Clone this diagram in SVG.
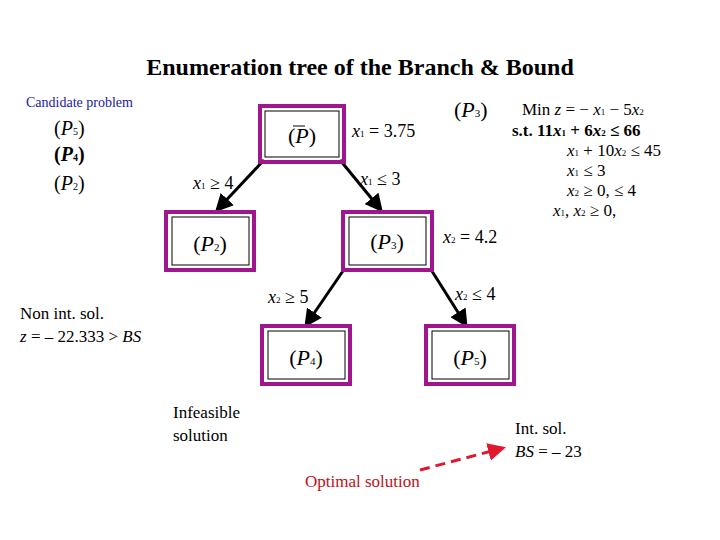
<svg xmlns="http://www.w3.org/2000/svg" width="720" height="540" viewBox="0 0 720 540">
<style>
text{font-family:"Liberation Serif",serif;fill:#000}
.m{font-style:italic}
.o{fill:none;stroke:#a0168e;stroke-width:4}
.i{fill:#fff;stroke:#000;stroke-width:1}
.c line{stroke:#000;stroke-width:3}
</style>
<defs><marker id="a" markerWidth="6" markerHeight="6" refX="5" refY="3" orient="auto" markerUnits="strokeWidth"><path d="M0,0L6,3L0,6z" fill="#000"/></marker>
<marker id="r" markerWidth="6" markerHeight="6" refX="5" refY="3" orient="auto" markerUnits="strokeWidth"><path d="M0,0L6,3L0,6z" fill="#e0182e"/></marker></defs>
<rect width="720" height="540" fill="#fff"/>
<text x="360" y="75" text-anchor="middle" font-size="24" font-weight="bold">Enumeration tree of the Branch &amp; Bound</text>
<text x="26" y="107" font-size="14" style="fill:#1a1aa0">Candidate problem</text>
<text x="54" y="135" font-size="20">(<tspan class="m">P</tspan><tspan font-size="10">5</tspan>)</text>
<text x="54" y="161" font-size="20" font-weight="bold">(<tspan class="m">P</tspan><tspan font-size="10">4</tspan>)</text>
<text x="54" y="190" font-size="20">(<tspan class="m">P</tspan><tspan font-size="10">2</tspan>)</text>
<g class="c">
<line x1="264" y1="160" x2="217" y2="210" marker-end="url(#a)"/>
<line x1="340" y1="160" x2="381" y2="210" marker-end="url(#a)"/>
<line x1="345" y1="268" x2="306" y2="325" marker-end="url(#a)"/>
<line x1="430" y1="268" x2="466" y2="325" marker-end="url(#a)"/>
<line x1="420" y1="470" x2="503" y2="448" style="stroke:#e0182e" stroke-dasharray="10,6" marker-end="url(#r)"/>
</g>
<g id="P"><rect class="o" x="260" y="106" width="84" height="56"/><rect class="i" x="265" y="111" width="74" height="46"/><text x="302" y="143" text-anchor="middle" font-size="22">(<tspan class="m">P</tspan>)</text><line x1="293" y1="126" x2="305" y2="126" stroke="#000"/></g>
<g id="P2"><rect class="o" x="166" y="212" width="88" height="58"/><rect class="i" x="172" y="217" width="77" height="48"/><text x="210" y="251" text-anchor="middle" font-size="22">(<tspan class="m">P</tspan><tspan font-size="11">2</tspan>)</text></g>
<g id="P3"><rect class="o" x="343" y="212" width="89" height="58"/><rect class="i" x="349" y="217" width="77" height="48"/><text x="387" y="249" text-anchor="middle" font-size="22">(<tspan class="m">P</tspan><tspan font-size="11">3</tspan>)</text></g>
<g id="P4"><rect class="o" x="262" y="326" width="88" height="58"/><rect class="i" x="268" y="331" width="77" height="48"/><text x="306" y="365" text-anchor="middle" font-size="22">(<tspan class="m">P</tspan><tspan font-size="11">4</tspan>)</text></g>
<g id="P5"><rect class="o" x="426" y="326" width="88" height="58"/><rect class="i" x="432" y="331" width="77" height="48"/><text x="470" y="365" text-anchor="middle" font-size="22">(<tspan class="m">P</tspan><tspan font-size="11">5</tspan>)</text></g>
<text x="352" y="137" font-size="18"><tspan class="m">x</tspan><tspan font-size="9">1</tspan> = 3.75</text>
<text x="193" y="189" font-size="18"><tspan class="m">x</tspan><tspan font-size="9">1</tspan> ≥ 4</text>
<text x="360" y="185" font-size="18"><tspan class="m">x</tspan><tspan font-size="9">1</tspan> ≤ 3</text>
<text x="443" y="243" font-size="18"><tspan class="m">x</tspan><tspan font-size="9">2</tspan> = 4.2</text>
<text x="268" y="303" font-size="18"><tspan class="m">x</tspan><tspan font-size="9">2</tspan> ≥ 5</text>
<text x="455" y="300" font-size="18"><tspan class="m">x</tspan><tspan font-size="9">2</tspan> ≤ 4</text>
<text x="454" y="117" font-size="22">(<tspan class="m">P</tspan><tspan font-size="11">3</tspan>)</text>
<g font-size="17">
<text x="522" y="115">Min <tspan class="m">z</tspan> = − <tspan class="m">x</tspan><tspan font-size="9">1</tspan> − 5<tspan class="m">x</tspan><tspan font-size="9">2</tspan></text>
<text x="512" y="136" font-weight="bold">s.t.  11<tspan class="m">x</tspan><tspan font-size="9">1</tspan> + 6<tspan class="m">x</tspan><tspan font-size="9">2</tspan> ≤ 66</text>
<text x="567" y="156"><tspan class="m">x</tspan><tspan font-size="9">1</tspan> + 10<tspan class="m">x</tspan><tspan font-size="9">2</tspan> ≤ 45</text>
<text x="567" y="176"><tspan class="m">x</tspan><tspan font-size="9">1</tspan>              ≤ 3</text>
<text x="567" y="196"><tspan class="m">x</tspan><tspan font-size="9">2</tspan> ≥ 0,  ≤ 4</text>
<text x="553" y="216"><tspan class="m">x</tspan><tspan font-size="9">1</tspan>, <tspan class="m">x</tspan><tspan font-size="9">2</tspan> ≥ 0,</text>
</g>
<text x="20" y="319" font-size="17">Non int. sol.</text>
<text x="20" y="342" font-size="17"><tspan class="m">z</tspan> = – 22.333 &gt; <tspan class="m">BS</tspan></text>
<text x="173" y="418" font-size="17">Infeasible</text>
<text x="173" y="441" font-size="17">solution</text>
<text x="515" y="434" font-size="17">Int. sol.</text>
<text x="515" y="457" font-size="17"><tspan class="m">BS</tspan> = – 23</text>
<text x="305" y="487" font-size="17" style="fill:#c01020">Optimal solution</text>
</svg>
